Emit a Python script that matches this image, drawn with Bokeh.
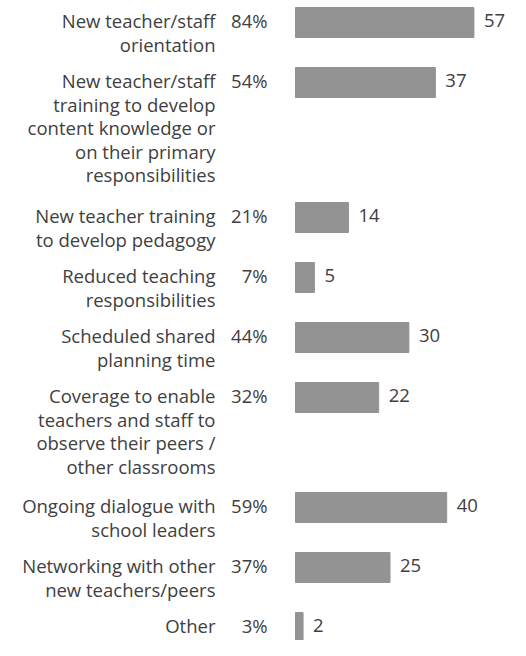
import numpy as np
from bokeh.plotting import figure
from bokeh.models import Range1d, ColumnDataSource
from bokeh.core.properties import value
from bokeh.embed import file_html
from bokeh.resources import INLINE

# ---- data ----
labels = [
    "New teacher/staff\norientation",
    "New teacher/staff\ntraining to develop\ncontent knowledge or\non their primary\nresponsibilities",
    "New teacher training\nto develop pedagogy",
    "Reduced teaching\nresponsibilities",
    "Scheduled shared\nplanning time",
    "Coverage to enable\nteachers and staff to\nobserve their peers /\nother classrooms",
    "Ongoing dialogue with\nschool leaders",
    "Networking with other\nnew teachers/peers",
    "Other",
]
percents = [84, 54, 21, 7, 44, 32, 59, 37, 3]
counts = [57, 37, 14, 5, 30, 22, 40, 25, 2]

# ---- layout / style ----
W, H = 510, 640
PX_PER_UNIT = 3.78
BAR_START_PX = 295
AXIS_MAX = 47.2
LINE_H = 23.5
BAR_H = 30
FONT = "Open Sans"
FSIZE = "18.5px"
TXT = "#404040"
BAR = "#939393"

lines = [l.split("\n") for l in labels]
centers = []
c = 22
for ls in lines:
    centers.append(c)
    c += 60 + (max(len(ls), 2) - 2) * 25
centers = np.array(centers)

p = figure(width=W, height=H, output_backend="svg", toolbar_location=None,
           x_range=Range1d(-BAR_START_PX / PX_PER_UNIT, (W - BAR_START_PX) / PX_PER_UNIT),
           y_range=Range1d(H, 0), min_border=0)
p.axis.visible = False
p.grid.visible = False
p.outline_line_color = None
p.background_fill_color = "white"

shown = np.minimum(np.array(counts, dtype=float), AXIS_MAX)
src = ColumnDataSource(dict(y=centers, right=shown, cnt=[str(v) for v in counts],
                            pct=[f"{v}%" for v in percents]))
p.hbar(y="y", left=0, right="right", height=BAR_H, color=BAR, source=src)

# category labels, one glyph per line
lx, ly, lt = [], [], []
for cy, ls in zip(centers, lines):
    for k, t in enumerate(ls):
        lx.append(0)
        ly.append(cy - 2 + k * LINE_H)
        lt.append(t)
p.text(x=lx, y=ly, text=lt, x_offset=-80, text_align="right", text_baseline="middle",
       text_font=value(FONT), text_font_size=FSIZE, text_color=TXT)

p.text(x=0, y="y", text="pct", source=src, x_offset=-28, y_offset=-2,
       text_align="right", text_baseline="middle",
       text_font=value(FONT), text_font_size=FSIZE, text_color=TXT)
p.text(x="right", y="y", text="cnt", source=src, x_offset=10, y_offset=-2,
       text_align="left", text_baseline="middle",
       text_font=value(FONT), text_font_size=FSIZE, text_color=TXT)

open("out.html", "w").write(file_html(p, INLINE))
